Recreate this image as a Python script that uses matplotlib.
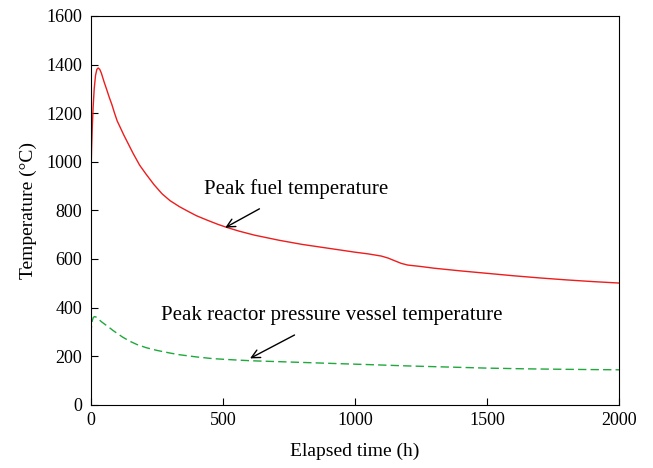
import numpy as np
import matplotlib
matplotlib.use('Agg')
from matplotlib import pyplot as plt

plt.rcParams['font.family'] = ['Liberation Serif', 'DejaVu Serif']

# peak fuel temperature
fuel_t = [0, 3, 6, 9, 13, 18, 23, 28, 34, 40, 50, 60, 70, 80, 90, 100, 110, 125, 140,
          160, 185, 210, 240, 270, 300, 336, 370, 400, 440, 480, 512, 560, 620, 713,
          800, 900, 1000, 1050, 1100, 1125, 1150, 1175, 1200, 1250, 1300, 1400, 1500,
          1600, 1700, 1800, 1900, 2000]
fuel_T = [900, 1050, 1150, 1225, 1300, 1355, 1380, 1386, 1380, 1365, 1330, 1298, 1265,
          1235, 1200, 1168, 1145, 1110, 1078, 1035, 986, 948, 905, 868, 840, 815, 795,
          778, 760, 743, 731, 715, 698, 677, 660, 644, 628, 621, 612, 604, 593, 582,
          575, 569, 562, 551, 541, 531, 522, 514, 507, 501]

# peak reactor pressure vessel temperature
rpv_t = [0, 3, 6, 10, 15, 22, 30, 40, 55, 70, 84, 100, 120, 147, 175, 210, 250, 300,
         336, 400, 462, 540, 613, 700, 839, 950, 1066, 1200, 1300, 1400, 1500, 1650,
         1800, 2000]
rpv_T = [290, 325, 348, 360, 363, 360, 352, 342, 330, 318, 306, 294, 279, 262, 248,
         235, 224, 213, 206, 197, 190, 185, 181, 178, 173, 169, 165, 160, 157, 154,
         151, 148, 146, 144]

fig = plt.figure(figsize=(6.53, 4.68), dpi=100)
ax = fig.add_axes([0.139, 0.135, 0.809, 0.831])

ax.plot(fuel_t, fuel_T, color='#ee1c1c', lw=1.0)
ax.plot(rpv_t, rpv_T, color='#1fa83c', lw=1.0, ls=(0, (6, 3)))

ax.annotate('Peak fuel temperature', xy=(509, 729), xytext=(777, 889),
            ha='center', va='center', fontsize=15,
            arrowprops=dict(arrowstyle='->', color='k', lw=1.0, shrinkA=11, shrinkB=0))
ax.annotate('Peak reactor pressure vessel temperature', xy=(603, 191), xytext=(911, 367),
            ha='center', va='center', fontsize=15,
            arrowprops=dict(arrowstyle='->', color='k', lw=1.0, shrinkA=11, shrinkB=0))

ax.set_xlim(0, 2000)
ax.set_ylim(0, 1600)
ax.set_xticks([0, 500, 1000, 1500, 2000])
ax.set_yticks(np.arange(0, 1601, 200))
ax.tick_params(direction='in', length=5, labelsize=13, top=False, right=False)
ax.tick_params(axis='y', pad=6)
ax.tick_params(axis='x', pad=5)
ax.set_xlabel('Elapsed time (h)', fontsize=14, labelpad=10)
ax.set_ylabel('Temperature (°C)', fontsize=14, labelpad=7)

fig.savefig('out.png', dpi=100)
